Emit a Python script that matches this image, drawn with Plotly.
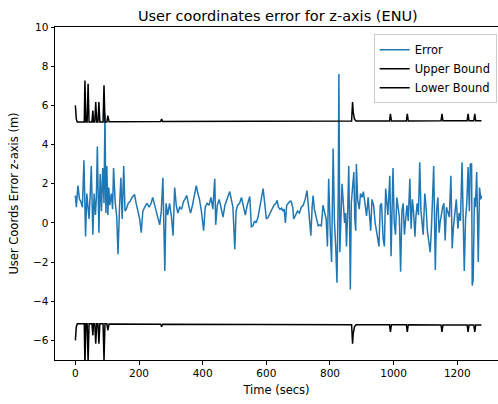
import plotly.graph_objects as go

# Error series (time in secs, error in m)
err_t = [0, 3, 8, 13, 17, 22, 27, 32, 36, 40, 43, 47, 50, 55, 59, 63, 66, 69, 74, 78, 82, 86, 90, 93, 96, 99,
         102, 105, 108, 113, 117, 120, 125, 130, 134, 139, 143, 147, 152, 156, 160, 166, 172, 178, 186, 191,
         196, 202, 207, 212, 218, 225, 232, 238, 243, 249, 255, 260, 265, 270, 275, 281, 285, 290, 296, 302,
         307, 312, 317, 322, 328, 334, 340, 344, 350, 356, 362, 368, 374, 380, 385, 390, 396, 403, 408, 414,
         420, 426, 432, 438, 441, 446, 452, 458, 464, 470, 476, 480, 485, 490, 495, 501, 505, 510, 516, 522,
         528, 534, 540, 545, 548, 553, 558, 563, 568, 574, 580, 585, 590, 595, 600, 606, 612, 618, 624, 630,
         634, 638, 643, 648, 652, 656, 660, 664, 668, 674, 678, 683, 686, 692, 698, 704, 710, 716, 722, 728,
         732, 736, 740, 744, 747, 751, 757, 763, 768, 773, 778, 783, 788, 792, 796, 801, 805, 810, 814, 818,
         822, 826, 828, 831, 834, 838, 842, 846, 849, 852, 856, 859, 862, 864, 867, 871, 875, 878, 881, 883,
         887, 892, 896, 901, 905, 910, 915, 920, 924, 928, 932, 937, 942, 946, 950, 954, 958, 962, 967, 971,
         975, 978, 982, 988, 992, 998, 1002, 1006, 1010, 1014, 1018, 1022, 1026, 1030, 1034, 1038, 1042, 1046,
         1051, 1055, 1059, 1063, 1067, 1070, 1074, 1078, 1082, 1086, 1090, 1093, 1098, 1102, 1106, 1111, 1115,
         1119, 1122, 1126, 1131, 1135, 1139, 1143, 1146, 1150, 1154, 1158, 1162, 1166, 1170, 1175, 1180, 1184,
         1188, 1192, 1197, 1202, 1206, 1210, 1215, 1222, 1226, 1230, 1234, 1238, 1241, 1245, 1247, 1250, 1254,
         1257, 1261, 1266, 1270, 1274, 1276]
err_v = [1.4, 0.8, 1.9, 1.2, 1.1, 0.8, 3.2, -0.7, 1.5, 0.6, 0.2, 1.6, 2.9, -0.6, 1.5, 0.4, 1.3, 3.9, -0.5, 2.5,
         0.6, 2.8, 1.0, 5.6, 0.5, 2.9, 0.4, 1.8, 0.9, 1.5, 0.7, 2.8, 1.1, 0.3, -1.6, 0.9, 2.3, 0.2, 2.9, 0.6,
         0.7, 1.0, 1.1, 1.3, 1.45, 1.0, 0.7, 0.2, -0.5, 0.6, 0.8, 1.0, 0.8, 1.0, 1.3, 0.9, 0.6, 0.3, -0.1, 0.6,
         2.3, -2.45, 1.0, 0.4, 1.0, 0.3, -0.65, 1.8, 0.9, 0.5, 0.8, 0.7, 1.1, 1.2, 1.4, 0.9, 0.5, 0.9, 1.4, 1.9,
         1.5, 1.2, 0.6, -0.4, 0.8, 1.0, 0.9, 1.3, 0.7, 2.25, -0.1, 0.9, 1.2, 0.8, 0.3, 0.9, 1.2, 1.3, 1.6, 1.2,
         0.8, -1.35, 0.6, 0.9, 1.0, 1.3, 0.8, 0.4, 0.9, 1.2, 1.35, -0.2, -0.15, 0.1, 0.0, 0.3, 0.8, 1.3, 1.75,
         1.0, 0.2, 0.3, 0.5, 0.7, 0.9, 1.0, 1.15, 0.8, 0.7, 0.75, 0.6, 0.7, 0.0, 0.9, 1.0, 1.1, 1.1, 0.8, 0.2,
         0.4, 0.6, 0.5, 0.8, 0.9, 1.2, 1.65, 0.9, 0.5, -0.65, 0.8, 1.4, 0.7, 0.2, -0.15, -0.1, -0.15, 0.9, 0.6,
         0.2, -1.2, 2.25, -0.5, -2.0, 3.8, 0.1, -1.2, -3.05, 1.5, 7.6, -1.5, -0.3, 2.0, 1.0, 0.0, 0.5, -1.2,
         0.8, 2.9, -0.5, -3.4, 1.0, 2.0, 2.6, 0.2, -0.4, 3.0, 1.2, 0.7, 1.5, 1.3, 1.6, 1.0, 0.35, 1.3, 0.6,
         -0.4, 1.2, 0.9, 0.0, -0.4, -0.6, -1.2, 0.9, 1.0, -0.8, -1.2, 1.75, 1.0, 0.4, 2.4, -1.7, 2.8, 0.0, -0.6,
         1.3, 0.8, 0.3, -2.5, 0.6, 1.0, -0.6, 0.2, 0.9, 0.1, 2.25, -0.3, 1.2, 0.5, -0.7, 0.3, 1.0, 0.4, 3.1,
         0.6, 0.0, -0.6, 1.5, 0.8, -0.4, -1.2, -1.5, -0.2, 1.0, 2.9, -2.4, 0.6, 1.3, -0.5, 0.0, 0.5, 0.8, 1.0,
         -0.9, 0.8, 0.6, 0.3, 2.4, -1.3, -0.2, 0.5, 1.2, -0.3, 0.5, 0.1, 3.1, -2.45, 0.2, 1.0, 2.85, 0.6, 3.0,
         3.0, -3.2, -2.9, 1.3, 0.8, 2.6, -2.0, 1.8, 1.2, 1.4]

# Bounds (time in secs, bound in m)
bound_t = [0, 3, 6, 28, 30, 33, 37, 40, 43, 52, 55, 57, 61, 64, 67, 71, 74, 77, 87, 90, 93, 99, 102, 106,
           268, 271, 274, 868, 871, 873, 877, 882, 987, 990, 993, 1040, 1043, 1046, 1149, 1152, 1155,
           1231, 1234, 1237, 1252, 1255, 1258, 1276]
upper_v = [6.0, 5.3, 5.15, 5.15, 7.27, 5.15, 5.15, 7.1, 5.15, 5.15, 5.74, 5.15, 5.15, 6.17, 5.15, 5.15, 6.17,
           5.15, 5.15, 7.02, 5.15, 5.15, 5.48, 5.16,
           5.17, 5.3, 5.17, 5.2, 6.17, 5.66, 5.3, 5.2, 5.2, 5.57, 5.2, 5.2, 5.57, 5.2, 5.21, 5.57, 5.21,
           5.21, 5.57, 5.21, 5.21, 5.57, 5.21, 5.21]
lower_v = [-6.0, -5.3, -5.15, -5.15, -7.27, -5.15, -5.15, -7.1, -5.15, -5.15, -5.74, -5.15, -5.15, -6.17,
           -5.15, -5.15, -6.17, -5.15, -5.15, -7.02, -5.15, -5.15, -5.48, -5.16,
           -5.17, -5.3, -5.17, -5.2, -6.17, -5.66, -5.3, -5.2, -5.2, -5.57, -5.2, -5.2, -5.57, -5.2, -5.21,
           -5.57, -5.21, -5.21, -5.57, -5.21, -5.21, -5.57, -5.21, -5.21]

x_ticks = [0, 200, 400, 600, 800, 1000, 1200]
y_ticks = [-6, -4, -2, 0, 2, 4, 6, 8, 10]

FONT = "DejaVu Sans"

fig = go.Figure()
fig.add_trace(go.Scatter(x=err_t, y=err_v, mode="lines", name="Error",
                         line=dict(color="#1f77b4", width=1.5)))
fig.add_trace(go.Scatter(x=bound_t, y=upper_v, mode="lines", name="Upper Bound",
                         line=dict(color="black", width=1.5)))
fig.add_trace(go.Scatter(x=bound_t, y=lower_v, mode="lines", name="Lower Bound",
                         line=dict(color="black", width=1.5)))

fig.update_layout(
    width=498, height=404,
    margin=dict(l=55, r=0, t=27, b=44),
    paper_bgcolor="white", plot_bgcolor="white",
    font=dict(family=FONT, size=10.5, color="black"),
    title=dict(text="User coordinates error for z-axis (ENU)", x=0.503, xref="paper",
               xanchor="center", y=1 - 16 / 404, yref="container", yanchor="middle",
               font=dict(size=14.5, family=FONT, color="black")),
    showlegend=True,
    legend=dict(x=0.997, y=0.978, xanchor="right", yanchor="top",
                bgcolor="rgba(255,255,255,0.8)", bordercolor="#cccccc", borderwidth=1,
                font=dict(size=11.5, family=FONT, color="black"),
                tracegroupgap=0, itemwidth=30),
)
fig.update_xaxes(range=[-64, 1328], tickvals=x_ticks, showgrid=False, zeroline=False,
                 showline=True, linecolor="black", linewidth=1, mirror=True,
                 ticks="outside", ticklen=3.5, tickcolor="black", automargin=False,
                 title=dict(text="Time (secs)", standoff=7, font=dict(size=11.5)))
fig.update_yaxes(range=[-7, 10], tickvals=y_ticks, showgrid=False, zeroline=False,
                 showline=True, linecolor="black", linewidth=1,
                 ticks="outside", ticklen=3.5, tickcolor="black", automargin=False,
                 title=dict(text="User Coords Error z-axis (m)", standoff=11, font=dict(size=11.5)))

fig.write_html("out.html")
